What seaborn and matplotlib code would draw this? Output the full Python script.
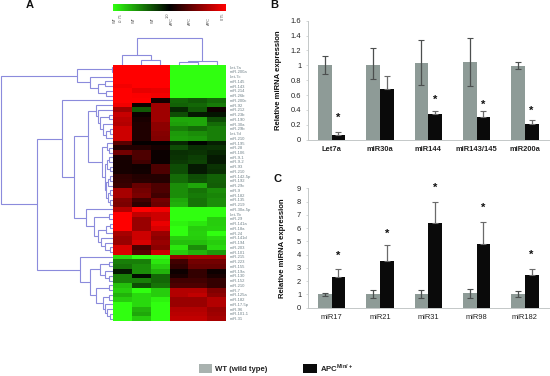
import numpy as np
import pandas as pd
import matplotlib
matplotlib.use("Agg")
import matplotlib.pyplot as plt
from matplotlib.colors import LinearSegmentedColormap
from matplotlib.patches import Patch
import seaborn as sns

sns.set_theme(style="white")
plt.rcParams["font.family"] = ["Liberation Sans", "DejaVu Sans"]
plt.rcParams["mathtext.fontset"] = "custom"
plt.rcParams["mathtext.bf"] = "Liberation Sans:bold"

W, H = 550, 376
fig = plt.figure(figsize=(W / 100, H / 100), dpi=100, facecolor="white")


def axpx(l, t, r, b):
    return fig.add_axes([l / W, 1 - b / H, (r - l) / W, (b - t) / H])


# ---------- heat map data ----------
columns = ["WT", "WT", "WT", "APC", "APC", "APC"]
row_labels = [
    "Let-7a", "miR-200a", "Let-7c", "miR-145", "miR-143", "miR-214", "miR-26b", "miR-200c", "miR-92",
    "miR-212", "miR-23b", "miR-190", "miR-30a", "miR-29b", "Let-7d", "miR-210", "miR-195", "miR-28",
    "miR-106", "miR-9-1", "miR-9-2", "miR-93", "miR-210", "miR-142-5p", "miR-192", "miR-29c", "miR-9",
    "miR-182", "miR-135", "miR-219", "miR-30a-5p", "Let-7b", "miR-29", "miR-141a", "miR-18a", "miR-24",
    "miR-141d", "miR-194", "miR-203", "miR-101", "miR-215", "miR-223", "miR-155", "miR-19a", "miR-130",
    "miR-152", "miR-210", "miR-7", "miR-125a", "miR-182", "miR-17-5p", "miR-96", "miR-101-1", "miR-31",
]
heat_values = [
    [1.00, 1.00, 1.00, -1.00, -1.00, -1.00],
    [1.00, 1.00, 1.00, -1.00, -1.00, -1.00],
    [1.00, 1.00, 1.00, -1.00, -1.00, -1.00],
    [1.00, 1.00, 1.00, -1.00, -1.00, -1.00],
    [0.95, 1.00, 1.00, -1.00, -1.00, -1.00],
    [1.00, 0.90, 0.92, -1.00, -1.00, -1.00],
    [1.00, 0.98, 0.95, -1.00, -1.00, -1.00],
    [1.00, 1.00, 0.08, -0.40, -0.35, -0.42],
    [0.95, 0.06, 0.62, -0.38, -0.40, -0.48],
    [0.62, -0.35, 0.62, -0.15, -0.35, 0.06],
    [0.78, 0.05, 0.62, -0.30, -0.10, -0.08],
    [0.72, 0.10, 0.62, -0.65, -0.65, -0.30],
    [0.70, 0.12, 0.55, -0.62, -0.65, -0.42],
    [0.80, 0.12, 0.55, -0.50, -0.42, -0.50],
    [0.80, 0.12, 0.52, -0.60, -0.55, -0.50],
    [0.80, 0.12, 0.50, -0.62, -0.60, -0.50],
    [0.35, 0.02, 0.02, -0.15, -0.02, -0.12],
    [0.14, 0.14, 0.08, -0.30, -0.18, -0.20],
    [0.45, 0.30, 0.04, -0.18, -0.20, -0.15],
    [0.10, 0.30, 0.04, -0.20, -0.25, -0.10],
    [0.08, 0.25, 0.04, -0.22, -0.26, -0.10],
    [0.08, 0.06, 0.30, -0.30, -0.10, -0.20],
    [0.08, 0.07, 0.30, -0.30, -0.10, -0.18],
    [0.18, 0.14, 0.14, -0.42, -0.30, -0.38],
    [0.20, 0.15, 0.14, -0.42, -0.32, -0.38],
    [0.22, 0.40, 0.30, -0.55, -0.65, -0.36],
    [0.65, 0.45, 0.30, -0.55, -0.45, -0.55],
    [0.65, 0.48, 0.25, -0.55, -0.48, -0.52],
    [0.50, 0.25, 0.45, -0.65, -0.45, -0.55],
    [0.48, 0.18, 0.42, -0.68, -0.45, -0.55],
    [0.70, 1.00, 0.95, -1.00, -1.00, -1.00],
    [1.00, 0.75, 0.80, -1.00, -1.00, -1.00],
    [1.00, 0.60, 0.80, -1.00, -1.00, -0.80],
    [1.00, 0.60, 0.92, -0.95, -0.90, -0.80],
    [1.00, 0.60, 0.85, -1.00, -0.80, -0.82],
    [0.65, 0.80, 0.60, -1.00, -0.82, -1.00],
    [0.60, 0.80, 0.55, -0.80, -0.80, -0.85],
    [0.60, 0.85, 0.60, -0.75, -0.75, -0.80],
    [0.85, 0.30, 0.55, -0.90, -0.55, -0.85],
    [0.85, 0.35, 0.80, -0.80, -0.70, -0.60],
    [-0.85, -1.00, -1.00, 0.60, 0.65, 0.65],
    [-0.50, -0.50, -0.90, 0.25, 0.45, 0.45],
    [-0.45, -0.55, -0.80, 0.20, 0.40, 0.40],
    [-0.10, -0.55, -0.70, 0.05, 0.20, 0.05],
    [-0.50, -0.05, -0.40, 0.10, 0.20, 0.10],
    [-0.50, -0.50, -0.40, 0.25, 0.25, 0.20],
    [-0.75, -0.30, -0.45, 0.30, 0.30, 0.20],
    [-0.80, -1.00, -0.80, 0.70, 0.70, 0.50],
    [-0.70, -0.85, -0.80, 0.70, 0.75, 0.55],
    [-0.80, -0.85, -0.95, 0.60, 0.60, 0.70],
    [-1.00, -0.85, -1.00, 0.60, 0.60, 0.70],
    [-1.00, -0.70, -1.00, 0.70, 0.70, 0.60],
    [-1.00, -0.65, -1.00, 0.72, 0.72, 0.62],
    [-1.00, -0.80, -1.00, 0.75, 0.75, 0.65],
]

# dendrogram merges: (height, child, child); leaves are row / column indices
tree_A = (36, (1, 0, 1), (23, 2, (15, (8, 3, 4), (7, 5, 6))))
tree_F1 = (17, 8, (15, 9, (13, (4, 10, 11), (10, 12, (7, (3, 13, 14), 15)))))
tree_F2 = (11, (6, 16, (4, 17, 18)), (8, (6, (4, 19, 20), (3, 21, 22)),
           (7, (5, (3, 23, 24), 25), (5, (3, 26, 27), (3, 28, 29)))))
tree_G = (27, 30, (19, (4, 31, 32), (15, (7, (3, 33, 34), 35), (12, 36, (8, 37, (3, 38, 39))))))
tree_E = (39, (25, tree_F1, tree_F2), tree_G)
tree_D = (33, 40, (23, (13, (4, 41, 42), (8, 43, (4, 44, 45))),
          (17, (4, 46, 47), (10, (4, 48, 49), (8, 50, (6, 51, (3, 52, 53)))))))
row_tree = (112, tree_A, (76, (51, 7, tree_E), tree_D))
col_tree = (27, (10, 0, (4.5, 1, 2)), (3.8, (2.6, 3, 4), 5))

# ---------- bar data ----------
genes_b = ["Let7a", "miR30a", "miR144", "miR143/145", "miR200a"]
wt_b = [1.00, 1.01, 1.03, 1.04, 0.99]
wt_b_low = [0.88, 0.81, 0.74, 0.72, 0.95]
wt_b_high = [1.13, 1.23, 1.34, 1.37, 1.05]
apc_b = [0.06, 0.68, 0.35, 0.30, 0.21]
apc_b_high = [0.10, 0.86, 0.39, 0.38, 0.26]
stars_b = [0.30, None, 0.53, 0.47, 0.385]

genes_c = ["miR17", "miR21", "miR31", "miR98", "miR182"]
wt_c = [1.00, 1.05, 1.03, 1.08, 1.04]
wt_c_low = [0.90, 0.75, 0.75, 0.70, 0.80]
wt_c_high = [1.10, 1.35, 1.33, 1.42, 1.28]
apc_c = [2.35, 3.55, 6.40, 4.78, 2.50]
apc_c_high = [2.88, 4.72, 8.00, 6.48, 2.88]
stars_c = [3.92, 5.55, 9.00, 7.50, 3.97]

GRAY = "#8e9b97"
BLACK = "#0a0a0a"
DENDRO = "#8b8bdc"
LABEL = "#6d7f86"
SPINE = "#c4c8c8"

# ---------- heat map ----------
cmap = LinearSegmentedColormap.from_list("gbr", ["#30ff10", "#000000", "#ff0000"])
heat_ax = axpx(113, 64.7, 226, 321)
cbar_ax = axpx(113, 4, 226, 11)
df = pd.DataFrame(heat_values, index=row_labels)
sns.heatmap(df, ax=heat_ax, cmap=cmap, vmin=-1, vmax=1, cbar_ax=cbar_ax,
            cbar_kws={"orientation": "horizontal"}, xticklabels=False, yticklabels=True)
heat_ax.yaxis.tick_right()
heat_ax.tick_params(axis="y", length=0, pad=2.5, labelsize=3, labelcolor=LABEL, labelrotation=0)

cbar_ax.set_xticks(np.linspace(-0.96, 0.70, 6))
cbar_ax.set_xticklabels(columns, rotation=90, fontsize=2.8, color="#555555")
cbar_ax.tick_params(axis="x", length=0, pad=4)
cbar_ax.text(-0.86, -0.25, "-0.75", rotation=90, ha="center", va="top", fontsize=2.8, color="#555555")
cbar_ax.text(-0.04, -0.25, "1.0", rotation=90, ha="center", va="top", fontsize=2.8, color="#555555")
cbar_ax.text(0.95, -0.25, "0.75", rotation=90, ha="center", va="top", fontsize=2.8, color="#555555")
for s in cbar_ax.spines.values():
    s.set_visible(False)


# ---------- dendrograms ----------
def draw_tree(ax, node, horizontal, offset):
    """Draw one merge tree; returns (leaf position, height)."""
    if not isinstance(node, tuple):
        return node + offset, 0
    h, a, b = node
    pa, ha = draw_tree(ax, a, horizontal, offset)
    pb, hb = draw_tree(ax, b, horizontal, offset)
    hs = [ha, h, h, hb]
    ps = [pa, pa, pb, pb]
    if horizontal:
        ax.plot(hs, ps, color=DENDRO, lw=0.8, solid_joinstyle="miter")
    else:
        ax.plot(ps, hs, color=DENDRO, lw=0.8, solid_joinstyle="miter")
    return (pa + pb) / 2, h


row_ax = axpx(0, 64.7, 113, 321)
row_ax.set_xlim(113, 0)
row_ax.set_ylim(54, 0)
draw_tree(row_ax, row_tree, True, 0.5)
row_ax.axis("off")

col_ax = axpx(113, 35, 226, 64.7)
col_ax.set_xlim(0, 6)
col_ax.set_ylim(0, 29.7)
draw_tree(col_ax, col_tree, False, 0.5)
col_ax.axis("off")


# ---------- bars ----------
def bars(ax, genes, wt, lows, highs, apc, apc_high, stars, ymax, ticks, ticklabels, bold_x, ypad):
    long = pd.DataFrame({
        "gene": genes * 2,
        "value": list(wt) + list(apc),
        "group": ["WT"] * len(genes) + ["APC"] * len(genes),
    })
    sns.barplot(data=long, x="gene", y="value", hue="group", ax=ax, order=genes,
                hue_order=["WT", "APC"], palette=[GRAY, BLACK], width=0.566, gap=0,
                dodge=True, errorbar=None, saturation=1, legend=False, linewidth=0)
    wt_bars, apc_bars = ax.containers[0], ax.containers[1]
    for i, (p, q) in enumerate(zip(wt_bars, apc_bars)):
        xw = p.get_x() + p.get_width() / 2
        xa = q.get_x() + q.get_width() / 2
        ax.errorbar(xw, wt[i], yerr=[[wt[i] - lows[i]], [highs[i] - wt[i]]], color="#4c4f4f",
                    lw=0.9, capsize=2, capthick=0.8)
        ax.errorbar(xa, apc[i], yerr=[[0], [apc_high[i] - apc[i]]], color="#6a6a6a",
                    lw=0.9, capsize=2, capthick=0.8)
        if stars[i] is not None:
            ax.text(xa, stars[i], "*", ha="center", va="center", fontsize=8,
                    fontweight="bold", color="#111111", clip_on=False)
    ax.set_xlim(-0.5, 4.5)
    ax.set_ylim(0, ymax)
    ax.set_yticks(ticks)
    ax.set_yticklabels(ticklabels)
    ax.set_xlabel("")
    ax.set_ylabel("Relative miRNA expression", fontsize=5.6, fontweight="bold", color="#111111", labelpad=ypad)
    ax.tick_params(axis="y", left=True, length=1.5, width=0.5, color=SPINE, labelsize=5.4,
                   labelcolor="#222222", pad=3)
    ax.tick_params(axis="x", length=0, labelsize=5.4, labelcolor="#222222", pad=4.5)
    if bold_x:
        for t in ax.get_xticklabels():
            t.set_fontweight("bold")
    sns.despine(ax=ax)
    for side in ("left", "bottom"):
        ax.spines[side].set_color(SPINE)
        ax.spines[side].set_linewidth(0.7)


ax_b = axpx(307.5, 20.7, 549, 139.7)
bars(ax_b, genes_b, wt_b, wt_b_low, wt_b_high, apc_b, apc_b_high, stars_b, 1.6,
     [0, 0.2, 0.4, 0.6, 0.8, 1, 1.2, 1.4, 1.6],
     ["0", "0.2", "0.4", "0.6", "0.8", "1", "1.2", "1.4", "1.6"], True, 6)

ax_c = axpx(307.5, 188.3, 549, 307.7)
bars(ax_c, genes_c, wt_c, wt_c_low, wt_c_high, apc_c, apc_c_high, stars_c, 9,
     list(range(10)), [str(v) for v in range(10)], False, 8)

# ---------- panel letters ----------
for letter, x, y in [("A", 30, 5), ("B", 274, 5), ("C", 277, 179)]:
    fig.text(x / W, 1 - y / H, letter, fontsize=8, fontweight="bold", ha="center", va="center", color="#111111")

# ---------- legend ----------
handles = [Patch(facecolor="#a9b2af", edgecolor="none"), Patch(facecolor=BLACK, edgecolor="none")]
leg = fig.legend(handles, ["WT (wild type)", r"APC$^{\mathbf{Min/+}}$"], ncol=2, frameon=False,
                 loc="center left", bbox_to_anchor=(199 / W, 1 - 367.5 / H), borderaxespad=0, borderpad=0,
                 handlelength=1.7, handleheight=1.3, handletextpad=0.4, columnspacing=4.6,
                 prop={"size": 5.6, "weight": "bold"})
for t in leg.get_texts():
    t.set_color("#222222")

fig.savefig("out.png", dpi=100, facecolor="white")
